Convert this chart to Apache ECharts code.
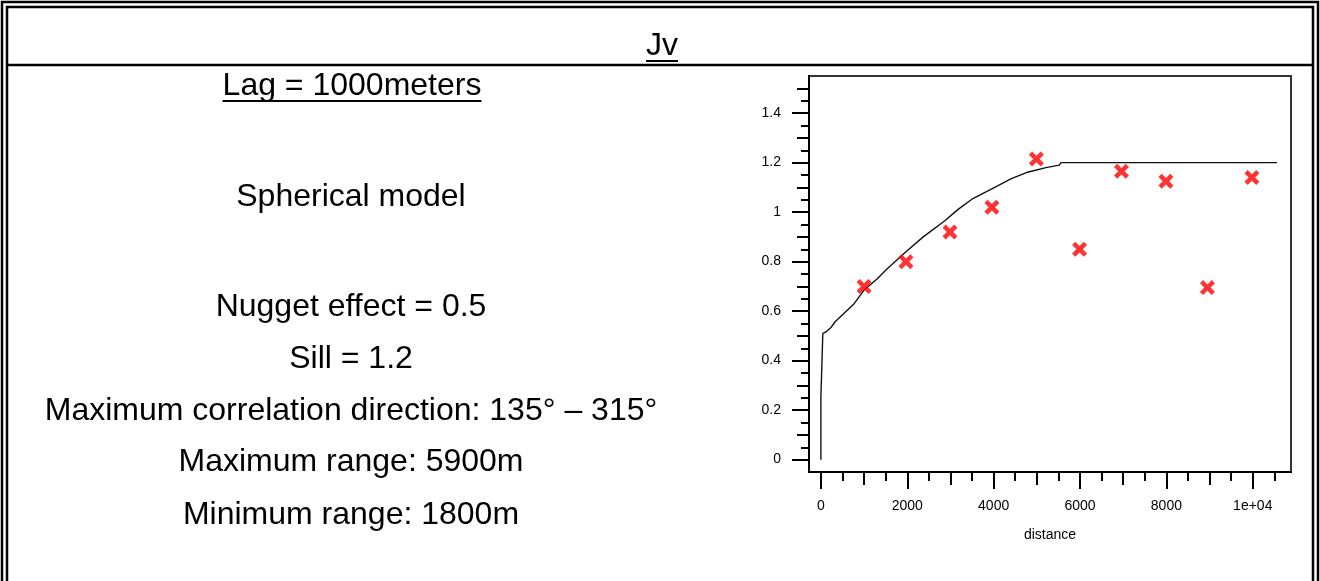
<!DOCTYPE html>
<html>
<head>
<meta charset="utf-8">
<title>Jv semivariogram</title>
<script src="https://cdn.jsdelivr.net/npm/echarts@6/dist/echarts.min.js"></script>
<style>
  html, body { margin: 0; padding: 0; background: #fff; }
  #chart { width: 1320px; height: 581px; }
</style>
</head>
<body>
<div id="chart"></div>
<script>
// Experimental semivariance per lag (distance in metres)
const lagDistance = [1000, 1970, 2990, 3960, 4990, 5990, 6960, 7990, 8950, 9980];
const semivariance = [0.70, 0.80, 0.92, 1.02, 1.215, 0.85, 1.165, 1.125, 0.695, 1.14];

// Fitted spherical model, traced as a polyline
const modelDistance = [0, 0, 45, 45, 110, 240, 330, 770, 1000, 1300, 1530, 1970, 2370, 2870, 3170, 3520, 3970, 4410, 4760, 5210, 5520, 5560, 10560];
const modelValue    = [0, 0.25, 0.25, 0.51, 0.515, 0.535, 0.557, 0.63, 0.685, 0.73, 0.77, 0.84, 0.90, 0.965, 1.01, 1.055, 1.095, 1.135, 1.16, 1.18, 1.19, 1.2, 1.2];

// Axis ticks and labels
const xMajorTicks = [0, 2000, 4000, 6000, 8000, 10000];
const xMajorLabels = ['0', '2000', '4000', '6000', '8000', '1e+04'];
const xMidTicks = [1000, 3000, 5000, 7000, 9000];
const xMinorTicks = [500, 1500, 2500, 3500, 4500, 5500, 6500, 7500, 8500, 9500, 10500];
const yMajorTicks = [0, 0.2, 0.4, 0.6, 0.8, 1.0, 1.2, 1.4];
const yMajorLabels = ['0', '0.2', '0.4', '0.6', '0.8', '1', '1.2', '1.4'];
const yMidTicks = [0.1, 0.3, 0.5, 0.7, 0.9, 1.1, 1.3, 1.5];
const yMinorTicks = [0.05, 0.15, 0.25, 0.35, 0.45, 0.55, 0.65, 0.75, 0.85, 0.95, 1.05, 1.15, 1.25, 1.35, 1.45];
const xAxisName = 'distance';

// Panel texts
const titleText = 'Jv';
const lagText = 'Lag = 1000meters';
const modelText = 'Spherical model';
const paramLines = [
  'Nugget effect = 0.5',
  'Sill = 1.2',
  'Maximum correlation direction: 135\u00b0 \u2013 315\u00b0',
  'Maximum range: 5900m',
  'Minimum range: 1800m'
];

const X_MIN = -275, X_MAX = 10885, Y_MIN = -0.05, Y_MAX = 1.55;
const BIG_FONT = '32px "Liberation Sans", Arial, sans-serif';
const TICK_FONT_FAMILY = '"Liberation Sans", Arial, sans-serif';

function textWidth(text, font) {
  const ctx = document.createElement('canvas').getContext('2d');
  ctx.font = font;
  return ctx.measureText(text).width;
}

function makeXAxis(ticks, len, labels) {
  return {
    type: 'value', min: X_MIN, max: X_MAX, position: 'bottom',
    gridIndex: 0,
    axisLine: { show: true, onZero: false, lineStyle: { color: '#000', width: 2 } },
    axisTick: { show: true, inside: false, length: len, customValues: ticks, lineStyle: { color: '#000', width: 2 } },
    axisLabel: labels ? {
      show: true, customValues: ticks, margin: 27, color: '#000',
      fontFamily: TICK_FONT_FAMILY, fontSize: 14,
      formatter: (v) => labels[ticks.indexOf(v)] ?? ''
    } : { show: false },
    splitLine: { show: false },
    name: labels ? xAxisName : '', nameLocation: 'middle', nameGap: 56,
    nameTextStyle: { color: '#000', fontFamily: TICK_FONT_FAMILY, fontSize: 14 }
  };
}

function makeYAxis(ticks, len, labels) {
  return {
    type: 'value', min: Y_MIN, max: Y_MAX, position: 'left',
    gridIndex: 0,
    axisLine: { show: true, onZero: false, lineStyle: { color: '#000', width: 2 } },
    axisTick: { show: true, inside: false, length: len, customValues: ticks, lineStyle: { color: '#000', width: 2 } },
    axisLabel: labels ? {
      show: true, customValues: ticks, margin: 28, color: '#000',
      fontFamily: TICK_FONT_FAMILY, fontSize: 14,
      formatter: (v) => {
        const i = ticks.findIndex(t => Math.abs(t - v) < 1e-9);
        return i >= 0 ? labels[i] : '';
      }
    } : { show: false },
    splitLine: { show: false }
  };
}

// Frame, dividers and text of the panel
const graphics = [];
graphics.push({ type: 'rect', shape: { x: 2, y: 2, width: 1316, height: 600 }, style: { fill: null, stroke: '#000', lineWidth: 2.5 }, silent: true });
graphics.push({ type: 'rect', shape: { x: 7, y: 7, width: 1306, height: 600 }, style: { fill: null, stroke: '#000', lineWidth: 2.5 }, silent: true });
graphics.push({ type: 'line', shape: { x1: 7, y1: 65, x2: 1313, y2: 65 }, style: { stroke: '#000', lineWidth: 2.5 }, silent: true });

function addText(text, cx, cy, underline) {
  graphics.push({ type: 'text', silent: true, style: { text, x: cx, y: cy, font: BIG_FONT, fill: '#000', textAlign: 'center', textVerticalAlign: 'middle' } });
  if (underline) {
    const w = textWidth(text, BIG_FONT);
    graphics.push({ type: 'line', silent: true, shape: { x1: cx - w / 2, y1: cy + 15, x2: cx + w / 2, y2: cy + 15 }, style: { stroke: '#000', lineWidth: 2 } });
  }
}

addText(titleText, 662, 46, true);
addText(lagText, 352, 86, true);
addText(modelText, 351, 197, false);
const paramY = [307, 359, 411, 462, 515];
paramLines.forEach((t, i) => addText(t, 351, paramY[i], false));

const xCross = 'path://M0,3 L3,0 L7,4 L11,0 L14,3 L10,7 L14,11 L11,14 L7,10 L3,14 L0,11 L4,7 Z';

const option = {
  animation: false,
  backgroundColor: '#fff',
  grid: { left: 809, top: 76, width: 482, height: 396, show: true, borderColor: '#333', borderWidth: 2, backgroundColor: 'transparent' },
  xAxis: [
    makeXAxis(xMajorTicks, 17, xMajorLabels),
    makeXAxis(xMidTicks, 13, null),
    makeXAxis(xMinorTicks, 9, null)
  ],
  yAxis: [
    makeYAxis(yMajorTicks, 17, yMajorLabels),
    makeYAxis(yMidTicks, 12, null),
    makeYAxis(yMinorTicks, 8, null)
  ],
  series: [
    {
      type: 'line', xAxisIndex: 0, yAxisIndex: 0,
      data: modelDistance.map((d, i) => [d, modelValue[i]]),
      showSymbol: false, symbol: 'none', smooth: false,
      lineStyle: { color: '#111', width: 1.4 }, silent: true, z: 2
    },
    {
      type: 'scatter', xAxisIndex: 0, yAxisIndex: 0,
      data: lagDistance.map((d, i) => [d, semivariance[i]]),
      symbol: xCross, symbolSize: 15,
      itemStyle: { color: '#ff0000' }, silent: true, z: 3
    }
  ],
  graphic: graphics
};

const chart = echarts.init(document.getElementById('chart'), null, { renderer: 'canvas' });
chart.setOption(option);
</script>
</body>
</html>
